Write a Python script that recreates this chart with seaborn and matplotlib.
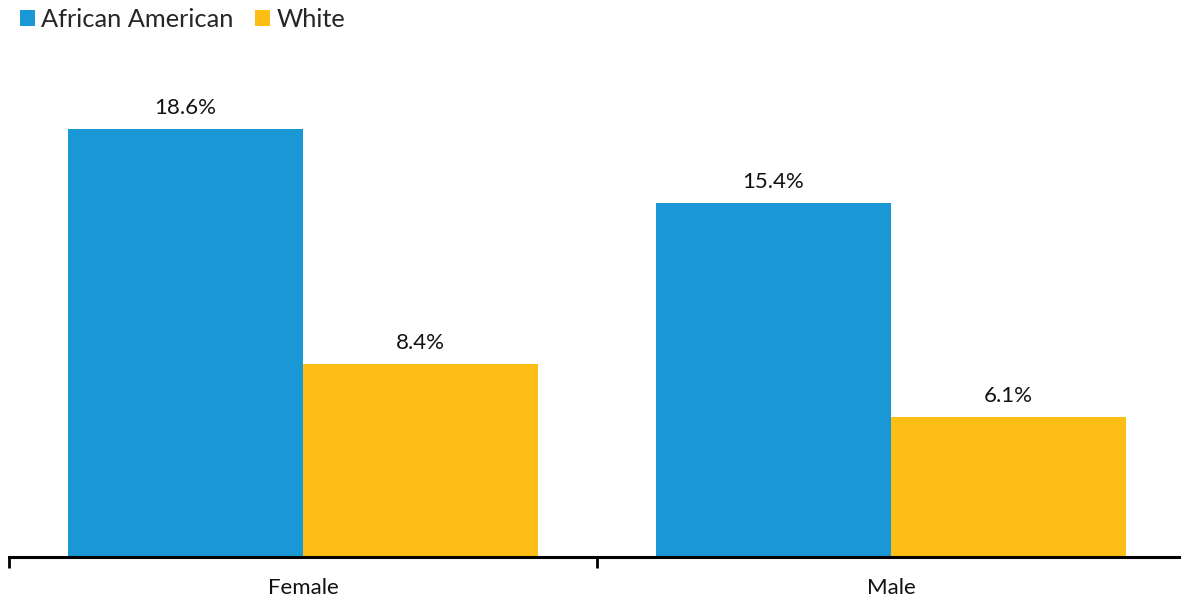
import matplotlib
matplotlib.use("Agg")
import matplotlib.pyplot as plt
import seaborn as sns
import pandas as pd
from matplotlib.patches import Patch

categories = ["Female", "Male"]
groups = ["African American", "White"]
african_american = [18.6, 15.4]
white = [8.4, 6.1]
colors = ["#1a98d5", "#fdbf16"]

df = pd.DataFrame({
    "sex": categories * 2,
    "race": [groups[0]] * 2 + [groups[1]] * 2,
    "value": african_american + white,
})

sns.set_style("white")
plt.rcParams["font.family"] = ["Lato", "DejaVu Sans"]

fig = plt.figure(figsize=(11.81, 6), dpi=100)
ax = fig.add_axes([9 / 1181, 43 / 600, 1176 / 1181, 460 / 600])

sns.barplot(data=df, x="sex", y="value", hue="race", order=categories,
            hue_order=groups, palette=colors, saturation=1, linewidth=0,
            width=0.8, ax=ax, legend=False)

for c in ax.containers:
    ax.bar_label(c, labels=[f"{v:.1f}%" for v in c.datavalues], padding=8,
                 fontsize=16, color="#111111")

ax.set_xlim(-0.5, 1.5)
ax.set_ylim(0, 20)
ax.set_xlabel("")
ax.set_ylabel("")
ax.set_yticks([])
for s in ["top", "right", "left"]:
    ax.spines[s].set_visible(False)
ax.spines["bottom"].set_linewidth(2.2)
ax.spines["bottom"].set_color("#000000")

ax.set_xticks([-0.5, 0.5, 1.5])
ax.set_xticklabels(["", "", ""])
ax.tick_params(axis="x", which="major", length=8, width=2, color="#000000", direction="out", bottom=True)
ax.set_xticks([0, 1], minor=True)
ax.set_xticklabels(categories, minor=True)
ax.tick_params(axis="x", which="minor", length=0, pad=15, labelsize=16, labelcolor="#111111")

handles = [Patch(facecolor=colors[0], edgecolor="none"), Patch(facecolor=colors[1], edgecolor="none")]
fig.legend(handles, groups, loc="upper left", bbox_to_anchor=(0.0085, 1.003), ncol=2,
           frameon=False, fontsize=18.3, handlelength=0.58, handleheight=0.58,
           handletextpad=0.25, columnspacing=0.85, borderaxespad=0)

fig.savefig("out.png", dpi=100)
